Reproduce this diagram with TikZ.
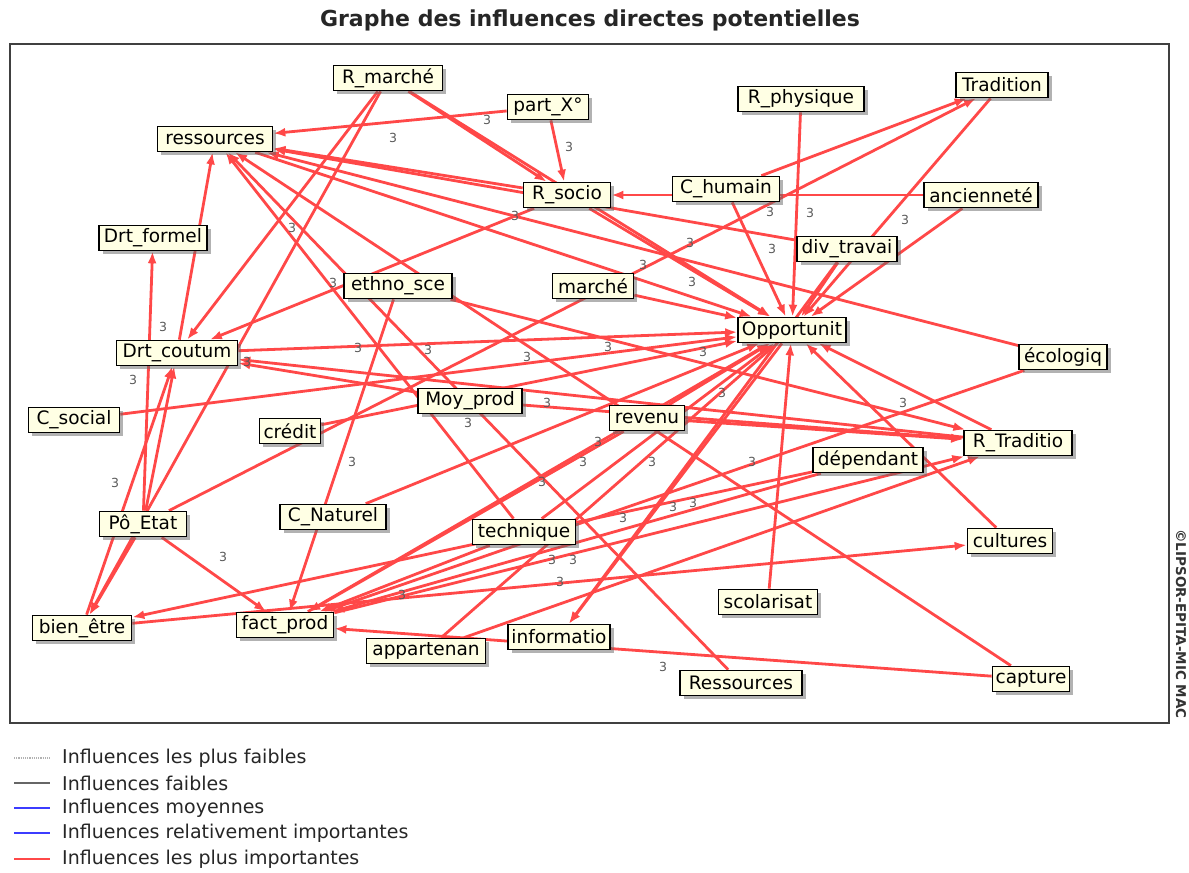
\documentclass[tikz,border=0pt]{standalone}
\usepackage{fontspec}
\setmainfont{DejaVu Sans}
\usepackage{tikz}
\usetikzlibrary{arrows.meta,shadows,backgrounds}

\definecolor{micred}{RGB}{255,72,72}
\definecolor{micblue}{RGB}{60,60,255}
\definecolor{varfill}{RGB}{255,255,228}

\tikzset{
  var/.style={draw=black, line width=1.7pt, fill=varfill, minimum height=25pt,
    inner xsep=2pt, inner ysep=0pt, font=\fontsize{18.5}{19}\selectfont,
    drop shadow={shadow xshift=3.5pt, shadow yshift=-3.5pt, fill=black!60}},
  infl/.style={micred, line width=2.8pt, -{Latex[length=12pt,width=9pt]}},
  val/.style={font=\fontsize{12.5}{13}\selectfont, text=black!65, inner sep=0pt},
  legtext/.style={anchor=west, font=\fontsize{19}{20}\selectfont, text=black!85, inner sep=0pt},
}

\begin{document}
\begin{tikzpicture}[x=1pt,y=-1pt]
\useasboundingbox (0,0) rectangle (1189,873);

% title and frame
\node[font=\bfseries\fontsize{22}{24}\selectfont, text=black!85] (title) at (590,20) {Graphe des influences directes potentielles};
\draw[black!75, line width=1.6pt] (10,44) rectangle (1169,723);
\node[rotate=-90, font=\bfseries\fontsize{13.5}{14}\selectfont, text=black!80] (copy) at (1181,624) {©LIPSOR-EPITA-MIC MAC};

% variables: name/x/y/box width/label
\foreach \n/\x/\y/\w/\t in {
    ressources/215/139/115/ressources,
    Rmarche/388/78/109/R\_marché,
    partX/548/107/81/part\_X°,
    Rphysique/801/99/126/R\_physique,
    tradition/1002/85/92/Tradition,
    Rsocio/567/195/87/R\_socio,
    Chumain/726/189/107/C\_humain,
    anciennete/981/195/114/ancienneté,
    Drtformel/153/238/108/Drt\_formel,
    divtravai/847/249/100/div\_travai,
    ethno/398/286/108/ethno\_sce,
    marche/593/286/81/marché,
    opport/792/330/108/Opportunit,
    Drtcoutum/177/353/121/Drt\_coutum,
    ecologiq/1063/357/88/écologiq,
    Csocial/74/420/91/C\_social,
    credit/290/431/61/crédit,
    Moyprod/470/401/104/Moy\_prod,
    revenu/647/418/75/revenu,
    Rtraditio/1018/443/108/R\_Traditio,
    dependant/868/460/110/dépendant,
    PoEtat/143/524/87/Pô\_Etat,
    Cnaturel/333/517/106/C\_Naturel,
    technique/524/532/103/technique,
    cultures/1010/541/85/cultures,
    scolarisat/768/602/99/scolarisat,
    bienetre/82/628/99/bien\_être,
    factprod/285/625/97/fact\_prod,
    informatio/559/637/102/informatio,
    appartenan/426/651/119/appartenan,
    Ressrc/741/683/122/Ressources,
    capture/1031/679/77/capture} {
    \node[var, minimum width=\w pt] (\n) at (\x,\y) {\t};
}

% influences
\begin{scope}[on background layer]
\foreach \a/\b in {
    partX/ressources, partX/Rsocio, Rmarche/Rsocio, Rmarche/opport,
    Rmarche/Drtcoutum, Rmarche/bienetre, Rsocio/ressources, anciennete/Rsocio,
    Chumain/tradition, Chumain/opport, Rphysique/opport, tradition/opport,
    anciennete/opport, divtravai/opport, divtravai/ressources, ecologiq/ressources,
    Rsocio/opport, marche/opport, ressources/opport, PoEtat/tradition,
    Rsocio/Drtcoutum, Drtcoutum/ressources, PoEtat/Drtformel, PoEtat/Drtcoutum,
    bienetre/Drtcoutum, PoEtat/bienetre, PoEtat/factprod, Ressrc/ressources,
    technique/ressources, capture/ressources, Moyprod/Drtcoutum, Moyprod/Rtraditio,
    Rtraditio/Drtcoutum, Drtcoutum/opport, Csocial/opport, credit/opport,
    ethno/factprod, opport/informatio, divtravai/informatio, scolarisat/opport,
    capture/factprod, Cnaturel/opport, technique/opport, factprod/opport,
    revenu/opport, bienetre/cultures, ecologiq/factprod, dependant/bienetre,
    Rtraditio/opport, cultures/opport, factprod/Rtraditio, revenu/Rtraditio,
    ethno/Rtraditio, appartenan/opport, appartenan/Rtraditio, technique/factprod,
    dependant/factprod, revenu/factprod} {
    \draw[infl] (\a) -- (\b);
}
\end{scope}

% intensity values
\foreach \x/\y in {
    487/120, 393/138, 569/147, 515/216, 292/228, 333/283, 690/243, 643/265,
    692/282, 770/212, 772/249, 810/213, 905/220, 163/327, 133/380, 247/362,
    358/348, 428/350, 527/357, 608/347, 703/352, 547/403, 468/423, 598/442,
    583/462, 652/462, 542/482, 722/393, 752/462, 673/507, 693/503, 623/518,
    552/560, 573/560, 560/582, 402/595, 663/667, 903/403, 115/483, 352/462,
    223/557} {
    \node[val] at (\x,\y) {3};
}

% legend
\draw[black!30, densely dotted, line width=1.2pt] (14,758) -- (50,758);
\draw[black!60, line width=1.3pt] (14,783) -- (50,783);
\draw[micblue, line width=1.3pt] (14,808) -- (50,808);
\draw[micblue, line width=2.8pt] (14,833) -- (50,833);
\draw[micred, line width=2.8pt] (14,859) -- (50,859);
\node[legtext] (leg1) at (62,758) {Influences les plus faibles};
\node[legtext] (leg2) at (62,783) {Influences faibles};
\node[legtext] (leg3) at (62,808) {Influences moyennes};
\node[legtext] (leg4) at (62,833) {Influences relativement importantes};
\node[legtext] (leg5) at (62,859) {Influences les plus importantes};
\end{tikzpicture}
\end{document}
